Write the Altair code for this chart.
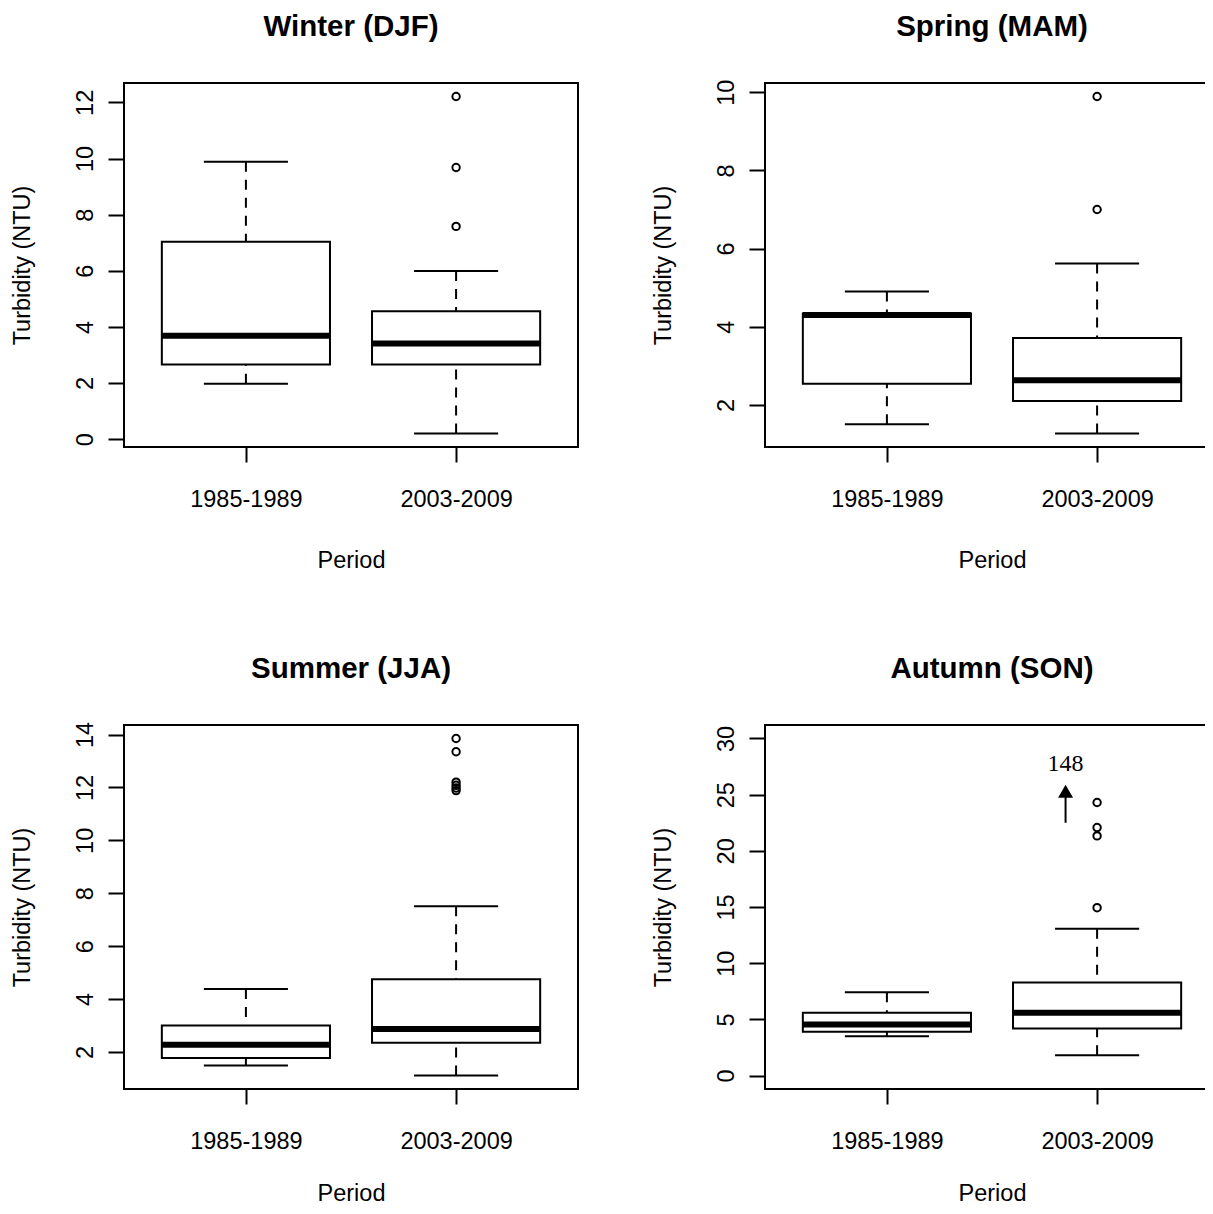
import altair as alt
import pandas as pd

categories = ["1985-1989", "2003-2009"]
seasons = ["Winter (DJF)", "Spring (MAM)", "Summer (JJA)", "Autumn (SON)"]

# five-number summaries per period: lower whisker, Q1, median, Q3, upper whisker (NTU)
winter_stats = [[1.97, 2.66, 3.68, 7.03, 9.88], [0.20, 2.66, 3.41, 4.56, 5.99]]
spring_stats = [[1.51, 2.54, 4.30, 4.34, 4.90], [1.27, 2.10, 2.63, 3.71, 5.62]]
summer_stats = [[1.49, 1.77, 2.27, 3.00, 4.38], [1.11, 2.35, 2.87, 4.75, 7.51]]
autumn_stats = [[3.50, 3.89, 4.54, 5.58, 7.42], [1.81, 4.19, 5.58, 8.29, 13.07]]

winter_outliers = [[], [7.58, 9.68, 12.21]]
spring_outliers = [[], [7.00, 9.89]]
summer_outliers = [[], [11.88, 11.98, 12.08, 12.20, 13.35, 13.85]]
autumn_outliers = [[], [14.94, 21.33, 22.07, 24.30]]

winter_ticks = [0, 2, 4, 6, 8, 10, 12]
spring_ticks = [2, 4, 6, 8, 10]
summer_ticks = [2, 4, 6, 8, 10, 12, 14]
autumn_ticks = [0, 5, 10, 15, 20, 25, 30]
autumn_ylim = [0, 30]

# off-scale autumn outlier (2003-2009), shown with an arrow and its value
offscale_label = ["148"]
offscale_x = [1.85]
offscale_arrow_from = [22.5]
offscale_arrow_to = [25.0]
offscale_head = [25.3]
offscale_label_y = [27.1]

FONT = "Liberation Sans"
LW = 2
W = 454
H = 364


def panel(title, stats, outliers, ticks, ylim=None, annotate=False, title_offset=41,
          xtitle_y=120):
    rows = []
    for i, (cat, s) in enumerate(zip(categories, stats)):
        p = i + 1
        rows.append(dict(period=cat, pos=p, xl=p - 0.4, xr=p + 0.4, sl=p - 0.2, sr=p + 0.2,
                         lo=s[0], q1=s[1], med=s[2], q3=s[3], hi=s[4]))
    box_df = pd.DataFrame(rows)
    out_df = pd.DataFrame([dict(period=c, pos=i + 1, value=v)
                           for i, c in enumerate(categories) for v in outliers[i]])
    allv = [v for s in stats for v in s] + [v for o in outliers for v in o]
    lo, hi = (min(allv), max(allv)) if ylim is None else ylim
    ext = 0.04 * (hi - lo)
    yscale = alt.Scale(domain=[lo - ext, hi + ext], nice=False, zero=False)
    xscale = alt.Scale(domain=[0.5 - 0.08, 2.5 + 0.08], nice=False, zero=False)

    xaxis = alt.Axis(values=[1, 2], labelExpr=f"{categories!r}[datum.value - 1]",
                     tickSize=15, tickWidth=LW, tickColor="black", domain=False, grid=False,
                     labelFont=FONT, labelFontSize=23.5, labelColor="black", labelFlush=False,
                     labelBaseline="alphabetic", labelPadding=44, labelAngle=0,
                     title="Period", titleFont=FONT, titleFontSize=23.5, titleFontWeight="normal",
                     titleColor="black", titleX=W / 2, titleY=xtitle_y, titleBaseline="alphabetic",
                     titleAlign="center")
    yaxis = alt.Axis(values=ticks, tickSize=16, tickWidth=LW, tickColor="black", domain=False,
                     grid=False, labelFont=FONT, labelFontSize=23.5, labelColor="black",
                     labelAngle=270, labelAlign="center", labelBaseline="alphabetic",
                     labelPadding=16, labelFlush=False, labelOverlap=False,
                     title="Turbidity (NTU)", titleFont=FONT, titleFontSize=23.5,
                     titleFontWeight="normal", titleColor="black", titleAngle=270,
                     titleAlign="center", titleBaseline="alphabetic", titleX=-95, titleY=H / 2)

    base = alt.Chart(box_df)
    X = lambda f: alt.X(f, scale=xscale, axis=xaxis)
    Y = lambda f: alt.Y(f, scale=yscale, axis=yaxis)

    wu = base.mark_rule(color="black", strokeWidth=LW, strokeDash=[10, 8]).encode(
        x=X("pos:Q"), y=Y("hi:Q"), y2="q3:Q")
    wl = base.mark_rule(color="black", strokeWidth=LW, strokeDash=[10, 8]).encode(
        x=X("pos:Q"), y=Y("lo:Q"), y2="q1:Q")
    su = base.mark_rule(color="black", strokeWidth=LW).encode(x=X("sl:Q"), x2="sr:Q", y=Y("hi:Q"))
    sl = base.mark_rule(color="black", strokeWidth=LW).encode(x=X("sl:Q"), x2="sr:Q", y=Y("lo:Q"))
    box = base.mark_rect(fill="white", stroke="black", strokeWidth=LW).encode(
        x=X("xl:Q"), x2="xr:Q", y=Y("q1:Q"), y2="q3:Q")
    med = base.mark_rule(color="black", strokeWidth=6, strokeCap="butt").encode(
        x=X("xl:Q"), x2="xr:Q", y=Y("med:Q"))
    pts = alt.Chart(out_df).mark_point(shape="circle", filled=False, color="black", size=55,
                                        strokeWidth=LW, opacity=1).encode(
        x=X("pos:Q"), y=Y("value:Q"))
    layers = [wu, wl, su, sl, box, med, pts]

    if annotate:
        ann = pd.DataFrame(dict(x=offscale_x, label=offscale_label, y0=offscale_arrow_from,
                                y1=offscale_arrow_to, head=offscale_head, ty=offscale_label_y))
        a = alt.Chart(ann)
        layers += [
            a.mark_rule(color="black", strokeWidth=LW).encode(x=X("x:Q"), y=Y("y0:Q"), y2="y1:Q"),
            a.mark_point(shape="triangle-up", filled=True, color="black", size=225, opacity=1).encode(
                x=X("x:Q"), y=Y("head:Q")),
            a.mark_text(font="Liberation Serif", fontSize=24, color="black", align="center",
                        baseline="alphabetic").encode(x=X("x:Q"), y=Y("ty:Q"), text="label:N"),
        ]

    return alt.layer(*layers).properties(
        width=W, height=H,
        title=alt.TitleParams(text=title, font=FONT, fontSize=29.5, fontWeight="bold",
                              color="black", anchor="middle", frame="group",
                              offset=title_offset))


p1 = panel(seasons[0], winter_stats, winter_outliers, winter_ticks, title_offset=41)
p2 = panel(seasons[1], spring_stats, spring_outliers, spring_ticks, title_offset=37)
p3 = panel(seasons[2], summer_stats, summer_outliers, summer_ticks, title_offset=37,
           xtitle_y=111)
p4 = panel(seasons[3], autumn_stats, autumn_outliers, autumn_ticks, ylim=autumn_ylim,
           annotate=True, title_offset=41, xtitle_y=111)

chart = alt.concat(p1, p2, p3, p4, columns=2, spacing={"row": 278, "column": 187},
                   bounds="flush").properties(
    autosize=alt.AutoSizeParams(type="none"),
    padding={"left": 116, "top": 75, "right": 1081, "bottom": 1123},
    background="white",
).configure_view(stroke="black", strokeWidth=LW)

chart.save("out.html", embed_options={"renderer": "svg", "actions": False})
